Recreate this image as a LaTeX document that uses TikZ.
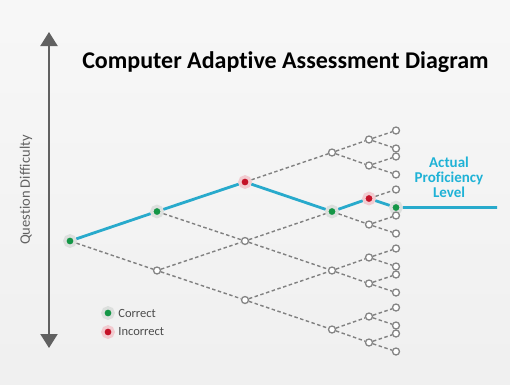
\documentclass[tikz,border=0pt]{standalone}
\usepackage{fontspec}
\setmainfont{Carlito}[Ligatures=NoCommon]
\usetikzlibrary{arrows.meta,positioning}
\definecolor{pfadblau}{RGB}{40,170,204}
\definecolor{textblau}{RGB}{30,178,214}
\definecolor{gruen}{RGB}{20,150,70}
\definecolor{rot}{RGB}{196,18,40}

\begin{document}
\begin{tikzpicture}[x=1pt,y=-1pt,
  leer/.style={circle,draw=black!48,fill=white,line width=1.3pt,inner sep=0pt,minimum size=7pt},
  ok/.style={circle,fill=gruen,draw=gruen!18!black!14,line width=3.2pt,inner sep=0pt,minimum size=10.5pt},
  falsch/.style={circle,fill=rot,draw=rot!22,line width=3.2pt,inner sep=0pt,minimum size=10.5pt},
  kante/.style={draw=black!50,line width=1.4pt,dash pattern=on 3.5pt off 2.5pt},
  pfad/.style={draw=pfadblau,line width=2.8pt},
  % Antworten auf dem Pfad
  pa00/.style=ok,pa10/.style=ok,pa20/.style=falsch,pa31/.style=ok,
  pb10/.style=falsch,pc101/.style=ok]
  % Hintergrund
  \useasboundingbox (0,0) rectangle (510,384);
  \shade[top color=white!97!black,bottom color=black!6] (0,0) rectangle (510,384);
  % Achse
  \coordinate (oben) at (49,32);
  \coordinate (unten) at (49,348);
  \draw[black!62,line width=2pt,{Triangle[length=14pt,width=17pt]}-{Triangle[length=14pt,width=17pt]}] (oben) -- (unten);
  \node[rotate=90,text=black!62,font=\fontsize{14.5}{16}\selectfont] (achse) at (26,190) {Question Difficulty};
  % Titel
  \node[font=\fontsize{24}{28}\selectfont\bfseries] (titel) at (285.5,62) {Computer Adaptive Assessment Diagram};
  % Gitter (Stufe 0 bis 3)
  \foreach \i/\x in {0/70,1/157,2/245,3/332}
    \foreach \j in {0,...,\i}
      \node[leer,pa\i\j/.try] (a\i\j) at (\x,{241+(2*\j-\i)*29.5}) {};
  % Stufe 4 und 5
  \foreach \j in {0,...,3}
    \foreach \k in {0,1} {
      \node[leer,pb\j\k/.try] (b\j\k) at (369,{241+(2*\j-3)*29.5+(2*\k-1)*13}) {};
      \foreach \m in {0,1}
        \node[leer,pc\j\k\m/.try] (c\j\k\m) at (396,{241+(2*\j-3)*29.5+(2*\k-1)*13+(2*\m-1)*9}) {};
    }
  % Kanten
  \foreach \i in {0,1,2}
    \foreach \j in {0,...,\i} {
      \pgfmathtruncatemacro\ni{\i+1}
      \pgfmathtruncatemacro\nj{\j+1}
      \draw[kante] (a\i\j) -- (a\ni\j);
      \draw[kante] (a\i\j) -- (a\ni\nj);
    }
  \foreach \j in {0,...,3}
    \foreach \k in {0,1} {
      \draw[kante] (a3\j) -- (b\j\k);
      \foreach \m in {0,1}
        \draw[kante] (b\j\k) -- (c\j\k\m);
    }
  % Pfad
  \coordinate (ende) at (497,207.5);
  \draw[pfad] (a00) -- (a10) -- (a20) -- (a31) -- (b10) -- (c101) -- (ende);
  \node[align=center,text=textblau,font=\fontsize{15}{15}\selectfont\bfseries] (niveau) at (449,177) {Actual\\Proficiency\\Level};
  % Legende
  \node[ok] (lgok) at (108,313) {};
  \node[falsch] (lgfalsch) at (108,332) {};
  \node[right=0pt of lgok,text=black!70,font=\fontsize{12.5}{14}\selectfont] (lgoktext) {Correct};
  \node[right=0pt of lgfalsch,text=black!70,font=\fontsize{12.5}{14}\selectfont] (lgfalschtext) {Incorrect};
\end{tikzpicture}
\end{document}
